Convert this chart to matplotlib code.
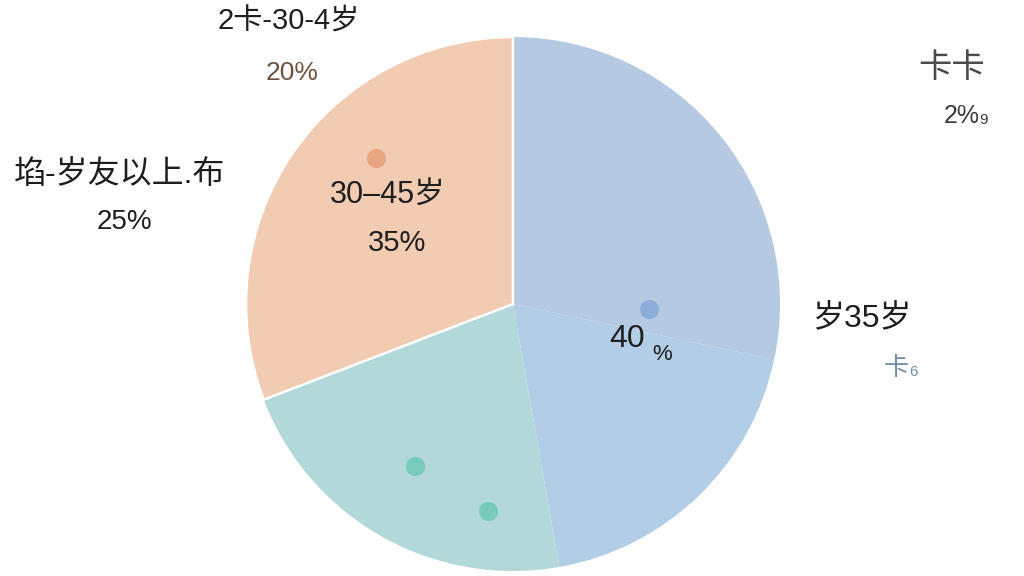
import matplotlib
matplotlib.use("Agg")
import matplotlib.pyplot as plt
import numpy as np

# ---- data (slice sizes in degrees-equivalent shares) ----
slice_names = ["岁35岁", "卡卡", "埳-岁友以上.布", "30-45岁"]
slice_values = [102, 68, 79, 111]
slice_colors = ["#b5c9e3", "#b1cee6", "#b2d8da", "#f2cbb3"]
dot_colors = ["#8cafd9", "#8cafd9", "#76cbba", "#e9a582"]

plt.rcParams['font.family'] = ['Liberation Sans', 'Noto Sans CJK SC', 'DejaVu Sans']

W, H = 1024, 576
fig = plt.figure(figsize=(W / 100, H / 100), dpi=100)
fig.patch.set_facecolor("white")
ax = fig.add_axes([0, 0, 1, 1])

cx, cy, R = 513, H - 304, 267

wedges, _ = ax.pie(slice_values, colors=slice_colors, startangle=90,
                   counterclock=False, center=(cx, cy), radius=R,
                   wedgeprops=dict(linewidth=0))
# white edge only on the orange slice
wedges[3].set_edgecolor("white")
wedges[3].set_linewidth(1.8)
wedges[3].set_zorder(3)

ax.set_xlim(0, W)
ax.set_ylim(0, H)
ax.set_aspect("equal")
ax.axis("off")


def polar(theta_deg, rfrac):
    t = np.deg2rad(theta_deg)
    return cx + R * rfrac * np.cos(t), cy + R * rfrac * np.sin(t)


# decorative dots placed relative to the wedges
dot_specs = [(-2, 0.51, dot_colors[0]),
             (-121, 0.71, dot_colors[2]),
             (-97, 0.78, dot_colors[2]),
             (133, 0.75, dot_colors[3])]
for ang, rf, col in dot_specs:
    x, y = polar(ang, rf)
    ax.scatter([x], [y], s=190, color=col, zorder=5, linewidths=0)


def T(x, y, s, size, color="#1e1e1e", ha="center", **kw):
    ax.text(x, H - y, s, fontsize=size, color=color, ha=ha, va="center",
            zorder=6, **kw)


T(289, 22, "2卡-30-4岁", 21)
T(292, 73, "20%", 19, color="#6e5240")
T(120, 175, "埳-岁友以上.布", 23)
T(124, 222, "25%", 20)
T(388, 195, "30–45岁", 22)
T(397, 243, "35%", 21)
T(627, 339, "40", 23)
T(662, 354, "%", 16)
T(862, 318, "岁35岁", 23)
T(896, 368, "卡", 18, color="#6f8ca8")
T(913, 372, "6", 11, color="#6f8ca8")
T(952, 68, "卡卡", 24, color="#4a4a4a")
T(962, 116, "2%", 18, color="#3a3a3a")
T(984, 120, "9", 11, color="#3a3a3a")

fig.savefig("out.png", dpi=100, facecolor="white")
